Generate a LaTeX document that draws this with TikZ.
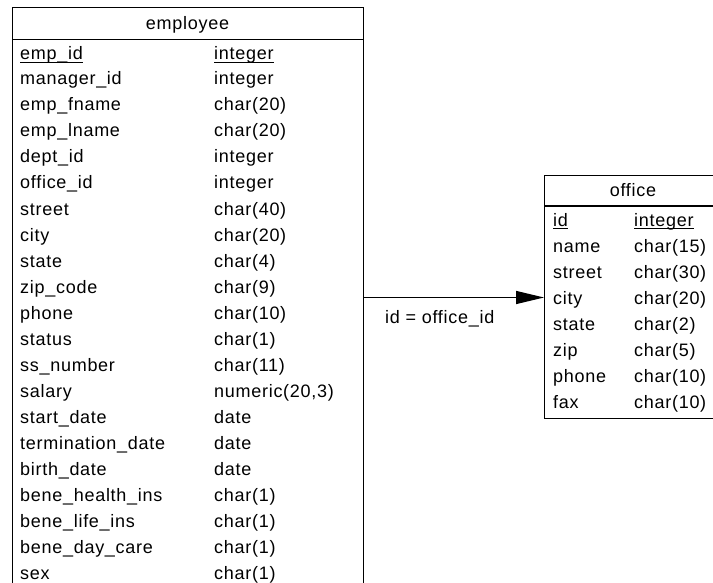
\documentclass[tikz,border=0pt]{standalone}
\usepackage{fontspec}
\setmainfont{Liberation Sans}[LetterSpace=4]
\usetikzlibrary{arrows.meta}
\newcommand\keyul[1]{\setbox0\hbox{#1}\rlap{\rule[-3pt]{\wd0}{1.3pt}}\box0}
\tikzset{
  tbl/.style={draw, line width=1.4pt, anchor=north west, inner sep=0pt},
  txt/.style={anchor=base west, inner sep=0pt, font=\fontsize{18}{21}\selectfont},
  ttl/.style={anchor=base, inner sep=0pt, font=\fontsize{18}{21}\selectfont},
  rel/.style={line width=1.4pt, -{Triangle[length=28pt,width=13pt]}}
}
\begin{document}
\begin{tikzpicture}[x=1pt,y=-1pt]
\useasboundingbox (0,0) rectangle (713,583);
\clip (0,0) rectangle (713,583);
% employee table
\node[tbl, minimum width=351pt, minimum height=600pt] (emp) at (12,7) {};
\coordinate (eh) at (0,39.5);
\draw[line width=1.4pt] (emp.west |- eh) -- (emp.east |- eh);
\node[ttl] (emptitle) at (187.5,30) {employee};
\node[txt] (en1) at (20,60) {\keyul{emp\_id}};
\node[txt] (et1) at (214,60) {\keyul{integer}};
\foreach [count=\i from 2] \n/\t in {manager\_id/integer, emp\_fname/char(20), emp\_lname/char(20), dept\_id/integer, office\_id/integer, street/char(40), city/char(20), state/char(4), zip\_code/char(9), phone/char(10), status/char(1), ss\_number/char(11), salary/{numeric(20,3)}, start\_date/date, termination\_date/date, birth\_date/date, bene\_health\_ins/char(1), bene\_life\_ins/char(1), bene\_day\_care/char(1), sex/char(1)}{
  \node[txt] (en\i) at (20,{59+26*(\i-1)}) {\n};
  \node[txt] (et\i) at (214,{59+26*(\i-1)}) {\t};
}
% office table
\node[tbl, minimum width=178pt, minimum height=243pt] (off) at (544,175) {};
\coordinate (oh) at (0,206);
\draw[line width=1.4pt] (off.west |- oh) -- (off.east |- oh);
\node[ttl] (offtitle) at (633,197) {office};
\node[txt] (on1) at (553,226) {\keyul{id}};
\node[txt] (ot1) at (634,226) {\keyul{integer}};
\foreach [count=\i from 2] \n/\t in {name/char(15), street/char(30), city/char(20), state/char(2), zip/char(5), phone/char(10), fax/char(10)}{
  \node[txt] (on\i) at (553,{226+26*(\i-1)}) {\n};
  \node[txt] (ot\i) at (634,{226+26*(\i-1)}) {\t};
}
% relationship
\coordinate (ry) at (0,297.5);
\draw[rel] (emp.east |- ry) -- (off.west |- ry);
\node[txt] (rlabel) at (385,323) {id = office\_id};
\end{tikzpicture}
\end{document}
